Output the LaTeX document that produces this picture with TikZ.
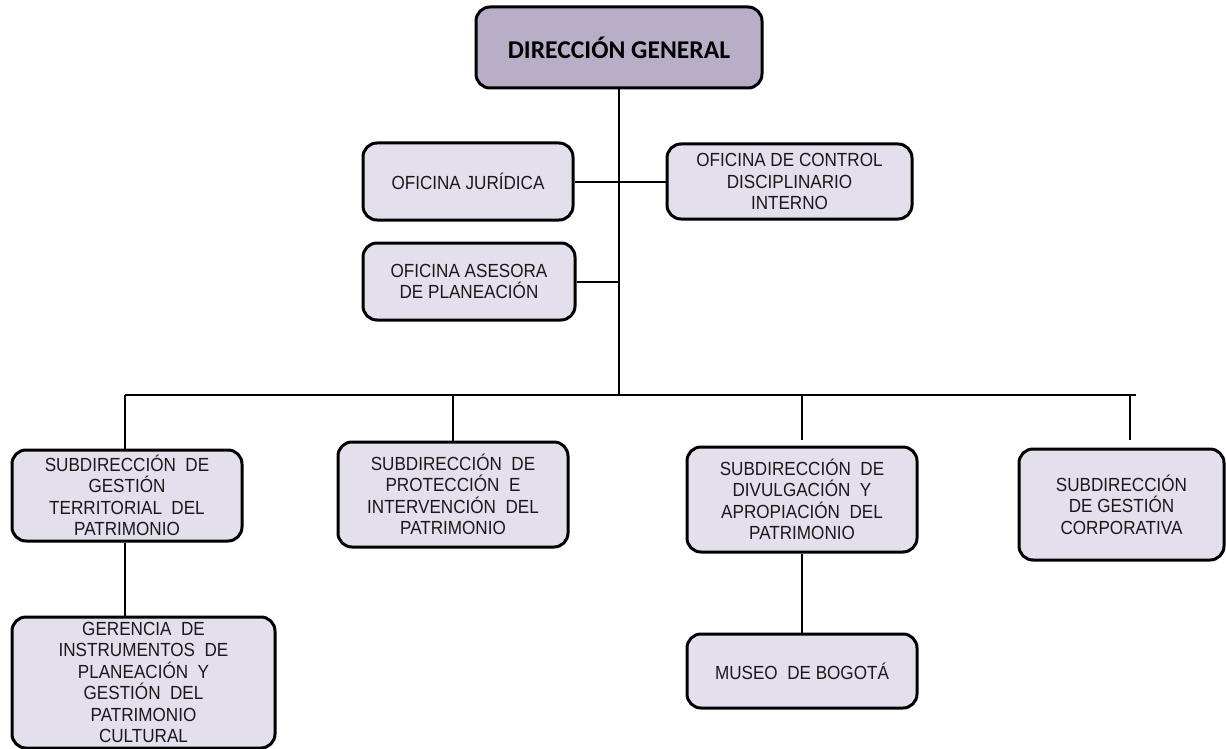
\documentclass[tikz,border=0pt]{standalone}
\usepackage{fontspec}
\setmainfont[FakeStretch=0.9]{Liberation Sans}
\newfontfamily\titlefont{Carlito}
\definecolor{topfill}{RGB}{185,174,200}
\definecolor{boxfill}{RGB}{228,223,236}

\begin{document}
\begin{tikzpicture}[x=0.5pt,y=-0.5pt,
  box/.style={draw=black, line width=1.5pt, rounded corners=7pt, fill=boxfill,
    align=center, inner sep=0pt, text=black!90,
    font=\fontsize{9.5}{10.7}\selectfont},
  wh/.style 2 args={minimum width=#1*0.5pt, minimum height=#2*0.5pt},
  link/.style={line width=1pt}]
\useasboundingbox (0,0) rectangle (1226,749);
% direccion
\node[box, fill=topfill, wh={286}{81}, text=black, font=\titlefont\bfseries\fontsize{12.8}{14}\selectfont] (dg) at (619,47.5) {DIRECCIÓN GENERAL};
% oficinas
\node[box, wh={210}{77}] (jur) at (468,181.5) {OFICINA JURÍDICA};
\node[box, wh={245}{75}] (ctrl) at (789.5,181.5) {OFICINA DE CONTROL\\DISCIPLINARIO\\INTERNO};
\node[box, wh={212}{77}] (ase) at (469,281.5) {OFICINA ASESORA\\DE PLANEACIÓN};
% subdirecciones
\node[box, wh={230}{91}] (ter) at (127,495.5) {SUBDIRECCIÓN\enspace DE\\GESTIÓN\\TERRITORIAL\enspace DEL\\PATRIMONIO};
\node[box, wh={230}{105}] (pro) at (453,494.5) {SUBDIRECCIÓN\enspace DE\\PROTECCIÓN\enspace E\\INTERVENCIÓN\enspace DEL\\PATRIMONIO};
\node[box, wh={230}{105}] (div) at (802,499.5) {SUBDIRECCIÓN\enspace DE\\DIVULGACIÓN\enspace Y\\APROPIACIÓN\enspace DEL\\PATRIMONIO};
\node[box, wh={205}{111}] (corp) at (1121.5,504.5) {SUBDIRECCIÓN\\DE GESTIÓN\\CORPORATIVA};
% dependencias
\node[box, wh={263}{131}] (ger) at (143.5,682.5) {GERENCIA\enspace DE\\INSTRUMENTOS\enspace DE\\PLANEACIÓN\enspace Y\\GESTIÓN\enspace DEL\\PATRIMONIO\\CULTURAL};
\node[box, wh={230}{74}] (mus) at (802,671) {MUSEO\enspace DE BOGOTÁ};
% lineas
\coordinate (busL) at (125,395);
\coordinate (busR) at (1136,395);
\coordinate (dropC) at (1130,395);
\draw[link] (dg.south) -- (dg.south |- busL);
\draw[link] (busL) -- (busR);
\draw[link] (jur) -- (ctrl);
\draw[link] (ase.east) -- (ase.east -| dg.south);
\draw[link] (busL) -- (busL |- ter.north);
\draw[link] (pro.north) -- (pro.north |- busL);
\draw[link, shorten <=3pt] (div.north) -- (div.north |- busL);
\draw[link] (dropC) -- ([yshift=4pt]dropC |- corp.north);
\draw[link] (busL |- ter.south) -- (busL |- ger.north);
\draw[link] (div) -- (mus);
\end{tikzpicture}
\end{document}
